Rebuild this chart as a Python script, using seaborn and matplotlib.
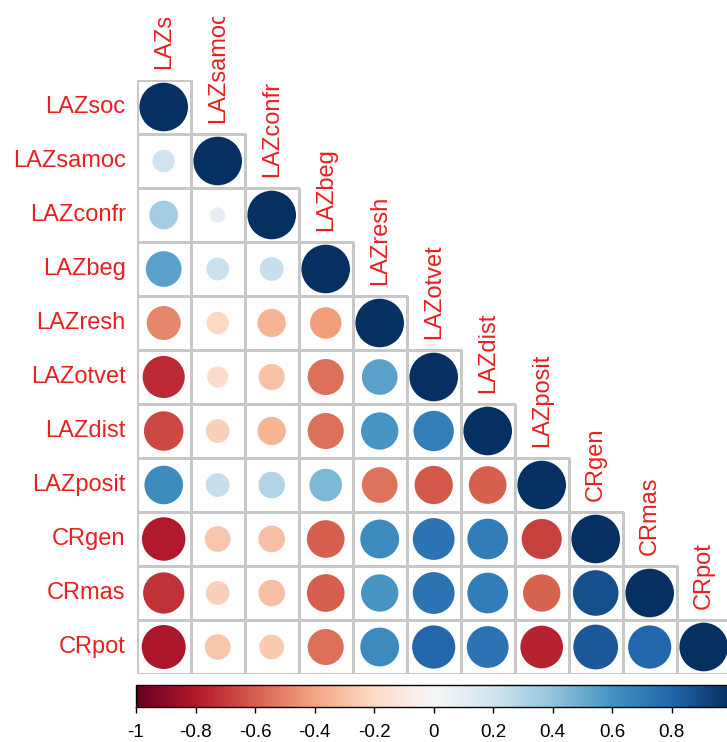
import numpy as np
import pandas as pd
import matplotlib
matplotlib.use("Agg")
import matplotlib.pyplot as plt
import seaborn as sns
from matplotlib.colors import ListedColormap, Normalize, to_rgba
from matplotlib.cm import ScalarMappable
from matplotlib.collections import QuadMesh
from matplotlib.transforms import Bbox, TransformedBbox

# Variables of the correlation matrix
variables = ["LAZsoc", "LAZsamoc", "LAZconfr", "LAZbeg", "LAZresh", "LAZotvet",
             "LAZdist", "LAZposit", "CRgen", "CRmas", "CRpot"]

# Lower-triangle correlations, one list per row (diagonal excluded)
row_LAZsamoc = [0.21]
row_LAZconfr = [0.35, 0.10]
row_LAZbeg = [0.54, 0.22, 0.24]
row_LAZresh = [-0.49, -0.21, -0.34, -0.42]
row_LAZotvet = [-0.75, -0.19, -0.29, -0.55, 0.54]
row_LAZdist = [-0.66, -0.24, -0.34, -0.55, 0.59, 0.69]
row_LAZposit = [0.63, 0.24, 0.30, 0.45, -0.54, -0.62, -0.60]
row_CRgen = [-0.80, -0.28, -0.30, -0.60, 0.64, 0.74, 0.70, -0.68]
row_CRmas = [-0.72, -0.24, -0.30, -0.60, 0.59, 0.74, 0.70, -0.59, 0.88]
row_CRpot = [-0.82, -0.28, -0.26, -0.55, 0.64, 0.79, 0.74, -0.77, 0.85, 0.79]

lower_rows = [[], row_LAZsamoc, row_LAZconfr, row_LAZbeg, row_LAZresh, row_LAZotvet,
              row_LAZdist, row_LAZposit, row_CRgen, row_CRmas, row_CRpot]

cbar_ticks = [-1, -0.8, -0.6, -0.4, -0.2, 0, 0.2, 0.4, 0.6, 0.8, 1]
cbar_ticklabels = ["-1", "-0.8", "-0.6", "-0.4", "-0.2", "0", "0.2", "0.4", "0.6", "0.8", "1"]

n = len(variables)
corr = np.eye(n)
for i, vals in enumerate(lower_rows):
    for j, v in enumerate(vals):
        corr[i, j] = v
        corr[j, i] = v
corr_df = pd.DataFrame(corr, index=variables, columns=variables)

# Long table of the lower triangle (including diagonal) for the circles
records = []
for i in range(n):
    for j in range(i + 1):
        records.append({"x": j + 0.5, "y": i + 0.5, "r": corr[i, j], "absr": abs(corr[i, j])})
cells = pd.DataFrame(records)

W, H, DPI = 727, 742, 100
fig = plt.figure(figsize=(W / DPI, H / DPI), dpi=DPI)
fig.patch.set_facecolor("white")

# Matrix panel in pixel geometry
left_px, top_px, cell_px = 136.7, 80.0, 54.0
span_px = cell_px * n
ax = fig.add_axes([left_px / W, 1 - (top_px + span_px) / H, span_px / W, span_px / H])

mask = np.triu(np.ones((n, n), dtype=bool), k=1)
grid_color = "#C8C8C8"
sns.heatmap(corr_df, mask=mask, cmap=ListedColormap(["white"]), cbar=False,
            linewidths=0.8, linecolor=grid_color, square=False, ax=ax,
            xticklabels=False, yticklabels=False)
# Keep cell borders only on the visible (lower) triangle
for coll in ax.collections:
    if isinstance(coll, QuadMesh):
        ec = np.array([to_rgba(grid_color) if not m else (0, 0, 0, 0)
                       for m in mask.ravel()])
        coll.set_edgecolors(ec)

# Circle area proportional to |r|; full circle spans 90% of a cell
diam_pt = 0.9 * cell_px * 72 / DPI
sns.scatterplot(data=cells, x="x", y="y", hue="r", palette="RdBu", hue_norm=(-1, 1),
                size="absr", sizes=(0, diam_pt ** 2), size_norm=(0, 1),
                linewidth=0, legend=False, ax=ax, zorder=3)
ax.set_xlim(0, n)
ax.set_ylim(n, 0)
ax.set_xlabel("")
ax.set_ylabel("")
ax.set_xticks([])
ax.set_yticks([])
for s in ax.spines.values():
    s.set_visible(False)

label_color = "#E8201F"
font = "Liberation Sans"
clip = TransformedBbox(Bbox([[0, 0], [1, 1 - 17 / H]]), fig.transFigure)
gap = 11 / cell_px
for i, name in enumerate(variables):
    ax.text(-gap, i + 0.5, name, ha="right", va="center", fontsize=17,
            color=label_color, family=font, clip_on=False)
    t = ax.text(i + 0.5, i - gap, name, ha="center", va="bottom", rotation=90,
                fontsize=17, color=label_color, family=font)
    t.set_clip_box(clip)
    t.set_clip_on(True)

# Horizontal colour key
cax = fig.add_axes([136 / W, 1 - 707 / H, 595 / W, 22 / H])
sm = ScalarMappable(norm=Normalize(-1, 1), cmap=sns.color_palette("RdBu", as_cmap=True))
cb = fig.colorbar(sm, cax=cax, orientation="horizontal", ticks=cbar_ticks)
cb.ax.set_xticklabels(cbar_ticklabels)
cb.outline.set_linewidth(1.0)
cb.outline.set_edgecolor("black")
cax.tick_params(axis="x", direction="out", length=4, width=1, pad=8,
                labelsize=13.5, colors="black")
for lbl in cax.get_xticklabels():
    lbl.set_family(font)

fig.savefig("out.png", dpi=DPI)
